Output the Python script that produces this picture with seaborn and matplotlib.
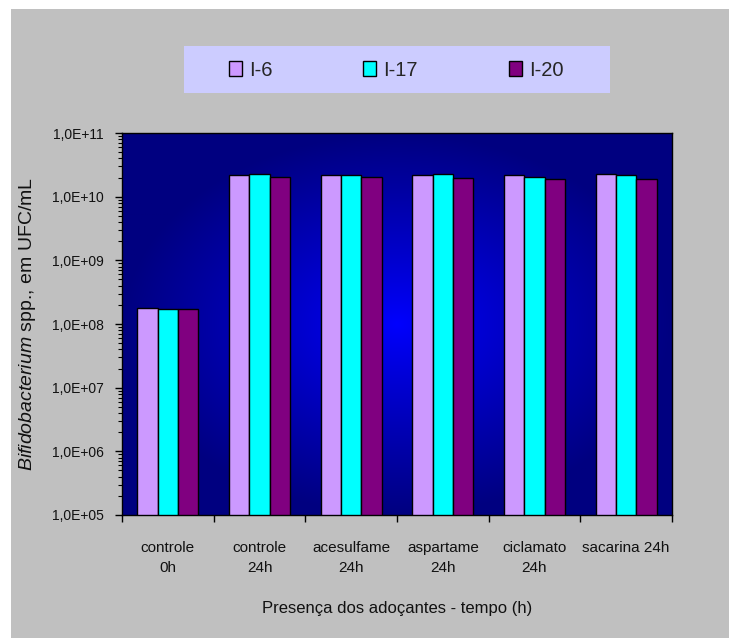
import numpy as np
import pandas as pd
import matplotlib
matplotlib.use("Agg")
import matplotlib.pyplot as plt
import seaborn as sns
from matplotlib.patches import Rectangle
from matplotlib.ticker import LogLocator, FuncFormatter, NullFormatter, FixedLocator

# ---- data ----
categories = ["controle\n0h", "controle\n24h", "acesulfame\n24h", "aspartame\n24h",
              "ciclamato\n24h", "sacarina 24h"]
series = ["I-6", "I-17", "I-20"]
i6 = [1.76e8, 2.18e10, 2.18e10, 2.18e10, 2.18e10, 2.28e10]
i17 = [1.70e8, 2.28e10, 2.18e10, 2.28e10, 2.04e10, 2.18e10]
i20 = [1.70e8, 2.07e10, 2.07e10, 1.98e10, 1.88e10, 1.88e10]
colors = ["#CC99FF", "#00FFFF", "#800080"]

df = pd.DataFrame({
    "cat": categories * 3,
    "serie": [s for s in series for _ in categories],
    "val": i6 + i17 + i20,
})

sns.set_style("ticks")
plt.rcParams["font.family"] = ["Liberation Sans", "DejaVu Sans"]
plt.rcParams["mathtext.fontset"] = "custom"
plt.rcParams["mathtext.it"] = "Liberation Sans:italic"
plt.rcParams["mathtext.rm"] = "Liberation Sans"

W, H = 729, 638
fig = plt.figure(figsize=(W / 100, H / 100), dpi=100, facecolor="white")
fig.patches.append(Rectangle((11 / W, 0), 1, 1 - 9 / H, transform=fig.transFigure,
                             facecolor="#C0C0C0", edgecolor="none", zorder=-10))

ax = fig.add_axes([122 / W, 1 - 515 / H, 550 / W, 382 / H])
ax.set_yscale("log")

# radial gradient background
n = 300
xx, yy = np.meshgrid(np.linspace(0, 1, n), np.linspace(0, 1, n))
r = np.sqrt(((xx - 0.5) / 0.5) ** 2 + ((yy - 0.5) / 0.5) ** 2)
t = np.clip(r, 0, 1) ** 0.9
img = np.zeros((n, n, 3))
img[..., 2] = (255 * (1 - t) + 128 * t) / 255
ax.imshow(img, extent=(0, 1, 0, 1), transform=ax.transAxes, aspect="auto",
          zorder=0, origin="lower")

sns.barplot(data=df, x="cat", y="val", hue="serie", hue_order=series,
            order=categories, palette=colors, edgecolor="black", linewidth=1,
            width=0.665, saturation=1, ax=ax, zorder=2)

ax.set_ylim(1e5, 1e11)
ax.set_xlim(-0.5, 5.5)
ax.yaxis.set_major_locator(LogLocator(base=10, numticks=10))
ax.yaxis.set_minor_locator(LogLocator(base=10, subs=np.arange(2, 10), numticks=20))
ax.yaxis.set_minor_formatter(NullFormatter())
ax.yaxis.set_major_formatter(FuncFormatter(lambda v, p: "1,0E+%02d" % int(round(np.log10(v)))))
ax.tick_params(axis="y", which="major", length=5, width=1, color="black",
               labelsize=10, pad=8, labelcolor="#111111")
ax.tick_params(axis="y", which="minor", length=3, width=0.8, color="black")

ax.xaxis.set_minor_locator(FixedLocator(np.arange(-0.5, 6, 1.0)))
ax.tick_params(axis="x", which="major", length=0, pad=19)
ax.tick_params(axis="x", which="minor", length=5, width=1, color="black")
for lab in ax.get_xticklabels():
    lab.set_fontsize(11)
    lab.set_linespacing(1.55)
    lab.set_color("#111111")
    lab.set_verticalalignment("top")

for s in ax.spines.values():
    s.set_color("black")
    s.set_linewidth(1)
    s.set_zorder(5)

ax.set_xlabel("")
ax.set_ylabel(r"$\it{Bifidobacterium}$ spp., em UFC/mL", fontsize=14,
              color="#111111", labelpad=10)

fig.text(397 / W, 1 - 608 / H, "Presença dos adoçantes - tempo (h)",
         fontsize=12, ha="center", va="center", color="#111111")

# legend
handles, labels = ax.get_legend_handles_labels()
if ax.get_legend() is not None:
    ax.get_legend().remove()
fig.patches.append(Rectangle((184 / W, 1 - 93 / H), 426 / W, 47 / H,
                             transform=fig.transFigure, facecolor="#CCCCFF",
                             edgecolor="none", zorder=-5))
leg = fig.legend(handles, labels, loc="center left",
                 bbox_to_anchor=(229 / W, 1 - 70 / H), ncol=3, frameon=False,
                 prop={"size": 14.5}, handlelength=0.65,
                 handleheight=0.7, handletextpad=0.35, columnspacing=4.5,
                 borderpad=0, borderaxespad=0)
for h in leg.legend_handles:
    h.set_edgecolor("black")
    h.set_linewidth(1)

fig.savefig("out.png", dpi=100, facecolor="white")
